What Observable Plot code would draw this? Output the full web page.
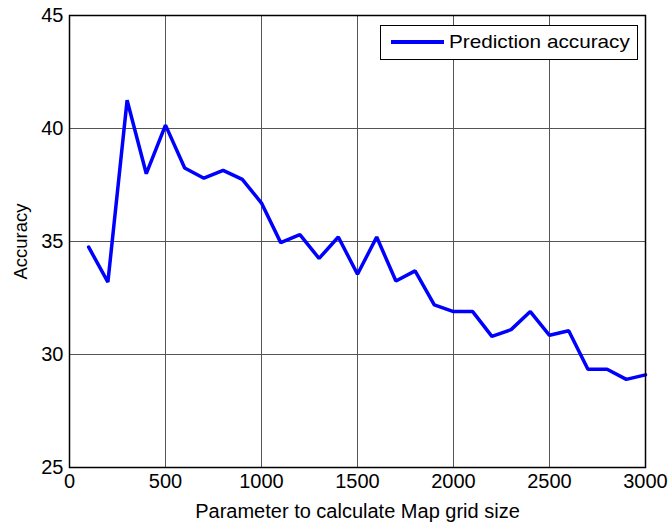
<!DOCTYPE html>
<html><head><meta charset="utf-8">
<script src="https://cdn.jsdelivr.net/npm/d3@7"></script>
<script src="https://cdn.jsdelivr.net/npm/@observablehq/plot@0.6"></script>
<style>
body{margin:0;background:#fff;}
#wrap{position:relative;width:668px;height:522px;font-family:"Liberation Sans",Arial,sans-serif;}
#legend{position:absolute;left:380px;top:25px;width:258px;height:35px;border:1px solid #000;background:#fff;box-sizing:border-box;}
#legend .ln{position:absolute;left:10px;top:14px;width:53px;height:4px;background:#0000ff;}
#legend .tx{position:absolute;left:68px;top:5px;font-size:18.5px;color:#000;transform:scaleX(1.12);transform-origin:left center;white-space:nowrap;}
</style></head><body>
<div id="wrap"></div>
<script>
const params = [100,200,300,400,500,600,700,800,900,1000,1100,1200,1300,1400,1500,1600,1700,1800,1900,2000,2100,2200,2300,2400,2500,2600,2700,2800,2900,3000];
const accuracy = [34.75,33.2,41.25,38.0,40.15,38.25,37.8,38.15,37.75,36.7,34.95,35.3,34.25,35.2,33.55,35.2,33.25,33.7,32.2,31.9,31.9,30.8,31.1,31.9,30.85,31.05,29.35,29.35,28.9,29.1];
const xTicks = [0,500,1000,1500,2000,2500,3000];
const yTicks = [25,30,35,40,45];
const seriesName = "Prediction accuracy";

const data = params.map((p,i)=>({p, a: accuracy[i]}));
const chart = Plot.plot({
  width: 668, height: 522,
  marginLeft: 69, marginRight: 23, marginTop: 15, marginBottom: 55,
  style: {fontFamily: '"Liberation Sans", Arial, sans-serif', fontSize: "20px", color: "#000", background: "#fff"},
  x: {domain: [0,3000], ticks: xTicks, tickFormat: d => String(d), tickSize: 0, tickPadding: 6, label: "Parameter to calculate Map grid size", labelAnchor: "center", labelArrow: "none", labelOffset: 50},
  y: {domain: [25,45], ticks: yTicks, tickFormat: d => String(d), tickSize: 0, tickPadding: 6, label: "Accuracy", labelAnchor: "center", labelArrow: "none", labelOffset: 56},
  marks: [
    Plot.ruleX(xTicks, {stroke: "#555", strokeWidth: 1}),
    Plot.ruleY(yTicks, {stroke: "#555", strokeWidth: 1}),
    Plot.line(data, {x: "p", y: "a", stroke: "#0000ff", strokeWidth: 3.5, strokeLinejoin: "miter"}),
    Plot.frame({stroke: "#000", strokeWidth: 1.5})
  ]
});
const wrap = document.getElementById("wrap");
wrap.appendChild(chart);
const yl = chart.querySelector('g[aria-label="y-axis label"]');
if (yl) yl.setAttribute("font-size", "18.5");
if (yl) yl.style.fontSize = "18.5px";
const lg = document.createElement("div");
lg.id = "legend";
lg.innerHTML = '<div class="ln"></div><div class="tx"></div>';
lg.querySelector(".tx").textContent = seriesName;
wrap.appendChild(lg);
</script>
</body></html>
